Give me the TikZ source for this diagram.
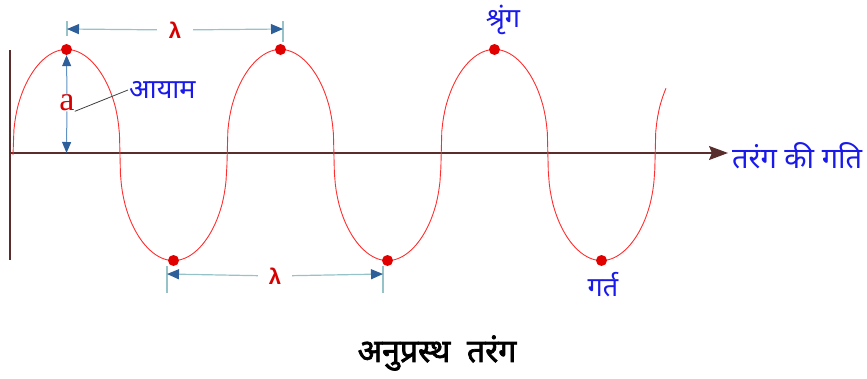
\documentclass[tikz,border=0pt]{standalone}
\usepackage{fontspec}
\newfontfamily\deva[Script=Devanagari]{Noto Sans}
\newfontfamily\devab[Script=Devanagari, FakeBold=2.2]{Noto Sans}
\newfontfamily\serifa{Liberation Serif}
\newfontfamily\sansl{Liberation Sans}
\usetikzlibrary{arrows.meta}

\definecolor{wavered}{RGB}{255,45,45}
\definecolor{dotred}{RGB}{225,0,0}
\definecolor{lamred}{RGB}{215,0,0}
\definecolor{axisbrown}{RGB}{90,45,45}
\definecolor{dimblue}{RGB}{45,95,155}
\definecolor{dimline}{RGB}{150,195,200}
\definecolor{ampline}{RGB}{95,145,195}
\definecolor{lblblue}{RGB}{25,25,235}

\begin{document}
\begin{tikzpicture}[x=1pt, y=-1pt,
  every node/.style={inner sep=1pt},
  lbl/.style={text=lblblue, font=\deva\fontsize{27}{29}\selectfont},
  lam/.style={text=lamred, font=\sansl\bfseries\fontsize{22}{24}\selectfont,
              minimum width=36pt},
  dot/.style={circle, fill=dotred, minimum size=11pt, inner sep=0pt},
  tick/.style={draw=dimline, line width=1.5pt},
  dim/.style={draw=dimline, line width=1.2pt,
              -{Triangle[length=12pt,width=10pt,color=dimblue]}},
  amp/.style={draw=ampline, line width=1pt,
              -{Triangle[length=11pt,width=9pt,color=dimblue]}},
  axisline/.style={draw=axisbrown, line width=1.5pt},
  wave/.style={draw=wavered, line width=0.9pt},
  declare function={ph(\t)=sin((\t-13)*1.682243);
                    wv(\t)=155-105.5*sign(ph(\t))*pow(abs(ph(\t))+0.001,0.4);}
]
\useasboundingbox (0,0) rectangle (867,378);

% axes
\coordinate (o)   at (10,153);
\coordinate (top) at (10,50);
\coordinate (bot) at (10,260);
\coordinate (end) at (728,153);
\draw[axisline] (top) -- (bot);
\draw[axisline, -{Stealth[length=19pt,width=14pt,inset=3pt]}] (o) -- (end);
\node[lbl, anchor=west, font=\deva\fontsize{29}{31}\selectfont] (gati)
  at (731,156) {तरंग की गति};

% the wave
\draw[wave] plot[domain=13:666, samples=700] (\x, {wv(\x)});

% crests and troughs
\node[dot] (pk1) at (66.5,49.5)  {};
\node[dot] (pk2) at (280.5,49.5) {};
\node[dot] (pk3) at (494.5,49.5) {};
\node[dot] (tr1) at (173.5,260.5) {};
\node[dot] (tr2) at (387.5,260.5) {};
\node[dot] (tr3) at (601.5,260.5) {};
\node[lbl] (shring) at (503,20)  {श्रृंग};
\node[lbl] (gart)   at (603,285) {गर्त};

% wavelength, top
\coordinate (ta) at (67,29);
\coordinate (tb) at (283,29);
\draw[tick] (67,21) -- (67,36);
\draw[tick] (283,21) -- (283,42);
\node[lam] (lam1) at (175,30) {λ};
\draw[dim] (lam1) -- (ta);
\draw[dim] (lam1) -- (tb);

% wavelength, bottom
\coordinate (ba) at (167,274);
\coordinate (bb) at (383,274);
\draw[tick] (167,266) -- (167,293);
\draw[tick] (383,266) -- (383,293);
\node[lam, minimum width=34pt] (lam2) at (275,276) {λ};
\draw[dim] (lam2) -- (ba);
\draw[dim] (lam2) -- (bb);

% amplitude
\coordinate (ax1) at (66.5,153);
\node[text=lamred, font=\serifa\fontsize{34}{36}\selectfont, fill=white,
      inner sep=0pt] (a) at (67,103) {a};
\draw[amp] (a) -- (pk1);
\draw[amp] (a) -- (ax1);
\node[lbl, anchor=west] (ayam) at (128,90) {आयाम};
\draw[black!75, line width=0.8pt] (a.south east) -- (ayam.west);

% caption
\node[font=\devab\fontsize{32}{34}\selectfont] (cap) at (437,353)
  {अनुप्रस्थ \ तरंग};
\end{tikzpicture}
\end{document}
